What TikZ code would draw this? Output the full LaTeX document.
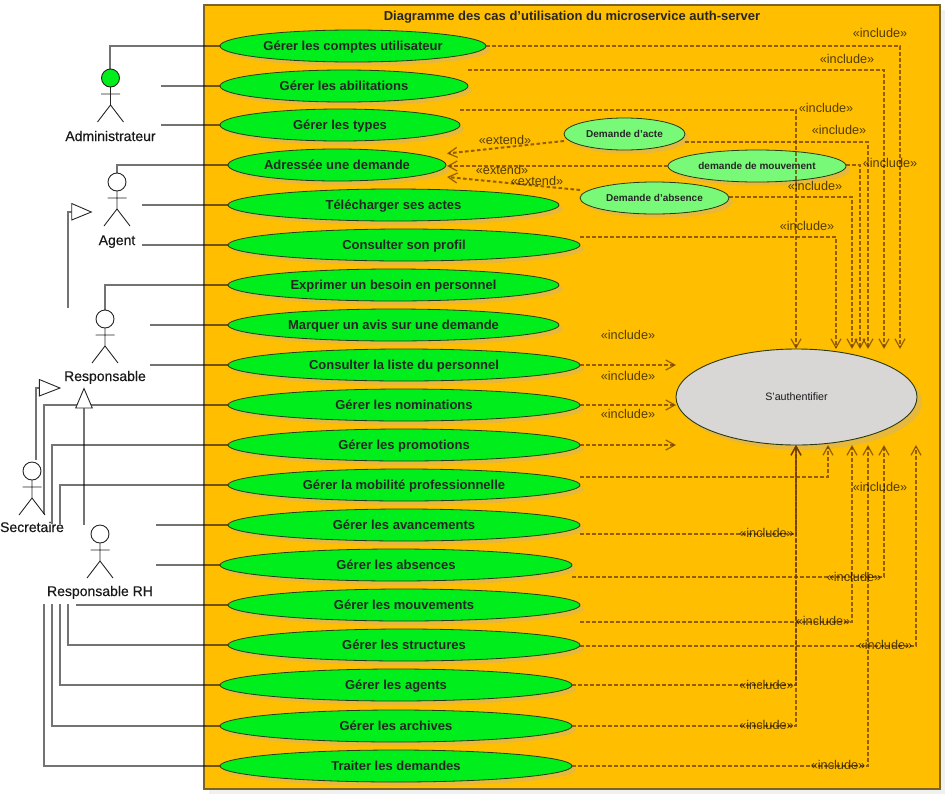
\documentclass[tikz,border=0pt]{standalone}
\usepackage{fontspec}
\setmainfont{Liberation Sans}
\newfontfamily\actorfont[FakeBold=0.35]{Liberation Sans}
\usetikzlibrary{arrows.meta,shapes.geometric}
\definecolor{sysfill}{HTML}{FFBE00}
\definecolor{sysline}{HTML}{7A6526}
\definecolor{ucgreen}{HTML}{00EE1C}
\definecolor{ucsmall}{HTML}{78FA78}
\definecolor{authfill}{HTML}{D9D6D6}
\definecolor{ucshadow}{HTML}{E6B83C}
\definecolor{dashcol}{HTML}{6B3A00}
\definecolor{ucline}{HTML}{2A3A10}
\tikzset{
  uc/.style={ellipse,draw=ucline,line width=.8pt,fill=ucgreen,inner sep=0pt,outer sep=0pt,
    font=\fontsize{13}{15}\selectfont\bfseries,text=black!85,text height=11pt,text depth=2pt},
  ucsm/.style={uc,fill=ucsmall,font=\fontsize{10}{12}\selectfont\bfseries,text height=9pt,text depth=2pt},
  uclabel/.style={font=\actorfont\fontsize{14}{15}\selectfont,text=black!90,inner sep=0pt,text height=11.5pt,text depth=1.5pt},
  shadowblob/.style={ellipse,fill=ucshadow,inner sep=0pt,outer sep=0pt},
  assoc/.style={draw=black,opacity=.55,line width=2pt},
  stick/.style={draw=black!85,line width=.9pt},
  gentri/.style={draw=black!85,line width=.9pt,fill=white},
  incl/.style={draw=dashcol,opacity=.72,line width=2pt,dash pattern=on 3.6pt off 2.4pt,
    -{Straight Barb[length=9pt,width=10pt,line width=1.2pt]}},
  stereo/.style={font=\fontsize{12.7}{14}\selectfont,text=black,text opacity=.68,inner sep=0pt,text height=10pt,text depth=2pt}
}
\newcommand{\usecase}[6][uc]{%
  \node[shadowblob,minimum width={#4-#3},minimum height=32] at ({(#3+#4)/2+4},#5+4) {};
  \node[#1,minimum width={#4-#3},minimum height=32] (#2) at ({(#3+#4)/2},#5) {#6};}
\newcommand{\umlactor}[6]{% name, x, yhead, fill, labely, label
  \node[circle,draw=black!85,line width=.9pt,fill=#4,minimum size=18,inner sep=0pt,outer sep=0pt] (#1) at (#2,#3) {};
  \draw[stick] (#2,#3+9) -- (#2,#3+27) (#2-9.5,#3+16) -- (#2+9.5,#3+16)
    (#2-13,#3+44) -- (#2,#3+27) -- (#2+13,#3+44);
  \node[uclabel] (#1lab) at (#2,#5) {#6};}
\begin{document}
\begin{tikzpicture}[x=1pt,y=-1pt]
\useasboundingbox (0,0) rectangle (949,798);
% system boundary
\fill[black!6] (209,10) rectangle (945,794);
\node[draw=sysline,line width=1.4pt,fill=sysfill,minimum width=736,minimum height=784,inner sep=0pt,outer sep=0pt] (sys) at (572,397) {};
\node[font=\fontsize{13}{15}\selectfont\bfseries,text=black!85,inner sep=0pt] (title) at (572,17) {Diagramme des cas d'utilisation du microservice auth-server};
% use cases
\usecase{u1}{220}{486}{46}{Gérer les comptes utilisateur}
\usecase{u2}{220}{468}{86}{Gérer les abilitations}
\usecase{u3}{220}{460}{125}{Gérer les types}
\usecase{u4}{228}{446}{165}{Adressée une demande}
\usecase{u5}{228}{559}{205}{Télécharger ses actes}
\usecase{u6}{228}{580}{245}{Consulter son profil}
\usecase{u7}{228}{559}{285}{Exprimer un besoin en personnel}
\usecase{u8}{228}{559}{325}{Marquer un avis sur une demande}
\usecase{u9}{228}{580}{365}{Consulter la liste du personnel}
\usecase{u10}{228}{580}{405}{Gérer les nominations}
\usecase{u11}{228}{580}{445}{Gérer les promotions}
\usecase{u12}{228}{580}{485}{Gérer la mobilité professionnelle}
\usecase{u13}{228}{580}{525}{Gérer les avancements}
\usecase{u14}{220}{572}{565}{Gérer les absences}
\usecase{u15}{228}{580}{605}{Gérer les mouvements}
\usecase{u16}{228}{580}{645}{Gérer les structures}
\usecase{u17}{220}{572}{685}{Gérer les agents}
\usecase{u18}{220}{572}{726}{Gérer les archives}
\usecase{u19}{220}{572}{766}{Traiter les demandes}
% extension cases
\usecase[ucsm]{xacte}{564}{685}{134}{Demande d'acte}
\usecase[ucsm]{xmouv}{668}{846}{166}{demande de mouvement}
\usecase[ucsm]{xabs}{580}{729}{198}{Demande d'absence}
% authenticate
\node[ellipse,fill=ucshadow,minimum width=241,minimum height=96,inner sep=0pt] at (801.5,402) {};
\node[ellipse,draw=ucline,line width=.9pt,fill=authfill,minimum width=241,minimum height=96,inner sep=0pt,outer sep=0pt,
  font=\fontsize{10.7}{12}\selectfont,text=black!90] (auth) at (796.5,397) {S'authentifier};
% actors
\umlactor{admin}{110.5}{78}{ucgreen}{136}{Administrateur}
\umlactor{agent}{117}{182}{white}{240}{Agent}
\umlactor{resp}{105}{319}{white}{376}{Responsable}
\umlactor{secr}{32}{471}{white}{527}{Secretaire}
\umlactor{rh}{100}{534}{white}{591}{Responsable RH}
% free ends
\coordinate (fa1) at (110,69);
\coordinate (fa2) at (161,86);
\coordinate (fa3) at (161,125);
\coordinate (fg5) at (142,205);
\coordinate (fg6) at (142,245);
\coordinate (fr8) at (150,325);
\coordinate (fr9) at (150,365);
\coordinate (fs10) at (44,514);
\coordinate (fs11) at (52,524);
\coordinate (fs12) at (60,524);
\coordinate (fh13) at (156,525);
\coordinate (fh14) at (156,565);
\coordinate (fh15) at (76,605);
\coordinate (fh16) at (68,604);
\coordinate (fh17) at (60,604);
\coordinate (fh18) at (52,604);
\coordinate (fh19) at (44,604);
% associations
\draw[assoc] (fa1) |- (u1.west);
\draw[assoc] (fa2) -- (u2.west);
\draw[assoc] (fa3) -- (u3.west);
\draw[assoc] (agent.north) |- (u4.west);
\draw[assoc] (fg5) -- (u5.west);
\draw[assoc] (fg6) -- (u6.west);
\draw[assoc] (resp.north) |- (u7.west);
\draw[assoc] (fr8) -- (u8.west);
\draw[assoc] (fr9) -- (u9.west);
\draw[assoc] (fs10) |- (u10.west);
\draw[assoc] (fs11) |- (u11.west);
\draw[assoc] (fs12) |- (u12.west);
\draw[assoc] (fh13) -- (u13.west);
\draw[assoc] (fh14) -- (u14.west);
\draw[assoc] (fh15) -- (u15.west);
\draw[assoc] (fh16) |- (u16.west);
\draw[assoc] (fh17) |- (u17.west);
\draw[assoc] (fh18) |- (u18.west);
\draw[assoc] (fh19) |- (u19.west);
% generalisations
\coordinate (gr1) at (68,308);
\coordinate (gr2) at (71.7,212);
\coordinate (gs1) at (36,460);
\coordinate (gs2) at (39.3,388);
\coordinate (gh1) at (84,525);
\coordinate (gh2) at (84,408);
\draw[assoc] (gr1) |- (gr2);
\draw[assoc] (gs1) |- (gs2);
\draw[assoc] (gh1) -- (gh2);
\draw[gentri] (71.7,203.5) -- (91.3,212) -- (71.7,220) -- cycle;
\draw[gentri] (39.3,379.5) -- (60,388) -- (39.3,396) -- cycle;
\draw[gentri] (75.7,408) -- (84,388.5) -- (92.3,408) -- cycle;
% include targets
\coordinate (d796) at (796,349);
\coordinate (d836) at (836,349);
\coordinate (d852) at (852,349);
\coordinate (d860) at (860,349);
\coordinate (d868) at (868,349);
\coordinate (d884) at (884,349);
\coordinate (d900) at (900,349);
\coordinate (t365) at (676,365);
\coordinate (t405) at (676,405);
\coordinate (t445) at (676,445);
\coordinate (b796) at (796,445);
\coordinate (b828) at (828,445);
\coordinate (b852) at (852,445);
\coordinate (b868) at (868,445);
\coordinate (b884) at (884,445);
\coordinate (b916) at (916,445);
\draw[incl] (u1.east) -| (d900);
\draw[incl] (u2.east |- 0,70) -| (d884);
\draw[incl] (u3.east |- 0,110) -| (d796);
\draw[incl] (xacte.east |- 0,142) -| (d868);
\draw[incl] (xmouv.east |- 0,165) -| (d860);
\draw[incl] (xabs.east |- 0,197) -| (d852);
\draw[incl] (u6.east |- 0,237) -| (d836);
\draw[incl] (u9.east |- t365) -- (t365);
\draw[incl] (u10.east |- t405) -- (t405);
\draw[incl] (u11.east |- t445) -- (t445);
\draw[incl] (u12.east |- 0,477) -| (b828);
\draw[incl] (u13.east |- 0,534) -| (b796);
\draw[incl] (u14.east |- 0,577) -| (b884);
\draw[incl] (u15.east |- 0,622) -| (b852);
\draw[incl] (u16.east |- 0,646) -| (b916);
\draw[incl] (u17.east) -| (b796);
\draw[incl] (u18.east) -| (b796);
\draw[incl] (u19.east) -| (b868);
% extends
\draw[incl] (xacte.west |- 0,141) -- (447,153.5);
\draw[incl] (xmouv.west) -- (447,166);
\draw[incl] (xabs.west |- 0,190) -- (447,177);
% stereotypes
\node[stereo] (i1) at (880,33) {«include»};
\node[stereo] (i2) at (847,59) {«include»};
\node[stereo] (i3) at (826,108.5) {«include»};
\node[stereo] (i4) at (839,130.5) {«include»};
\node[stereo] (i5) at (890,163.5) {«include»};
\node[stereo] (i6) at (815,186) {«include»};
\node[stereo] (i7) at (807,226) {«include»};
\node[stereo] (i8) at (628,335) {«include»};
\node[stereo] (i9) at (628,376) {«include»};
\node[stereo] (i10) at (628,414.5) {«include»};
\node[stereo] (i11) at (880,487.5) {«include»};
\node[stereo] (i12) at (766.5,533) {«include»};
\node[stereo] (i13) at (854,577) {«include»};
\node[stereo] (i14) at (823,621) {«include»};
\node[stereo] (i15) at (885,645) {«include»};
\node[stereo] (i16) at (766.5,685) {«include»};
\node[stereo] (i17) at (766.5,725) {«include»};
\node[stereo] (i18) at (838,765) {«include»};
\node[stereo] (e1) at (505,140) {«extend»};
\node[stereo] (e2) at (502,170) {«extend»};
\node[stereo] (e3) at (537,181) {«extend»};
\end{tikzpicture}
\end{document}
